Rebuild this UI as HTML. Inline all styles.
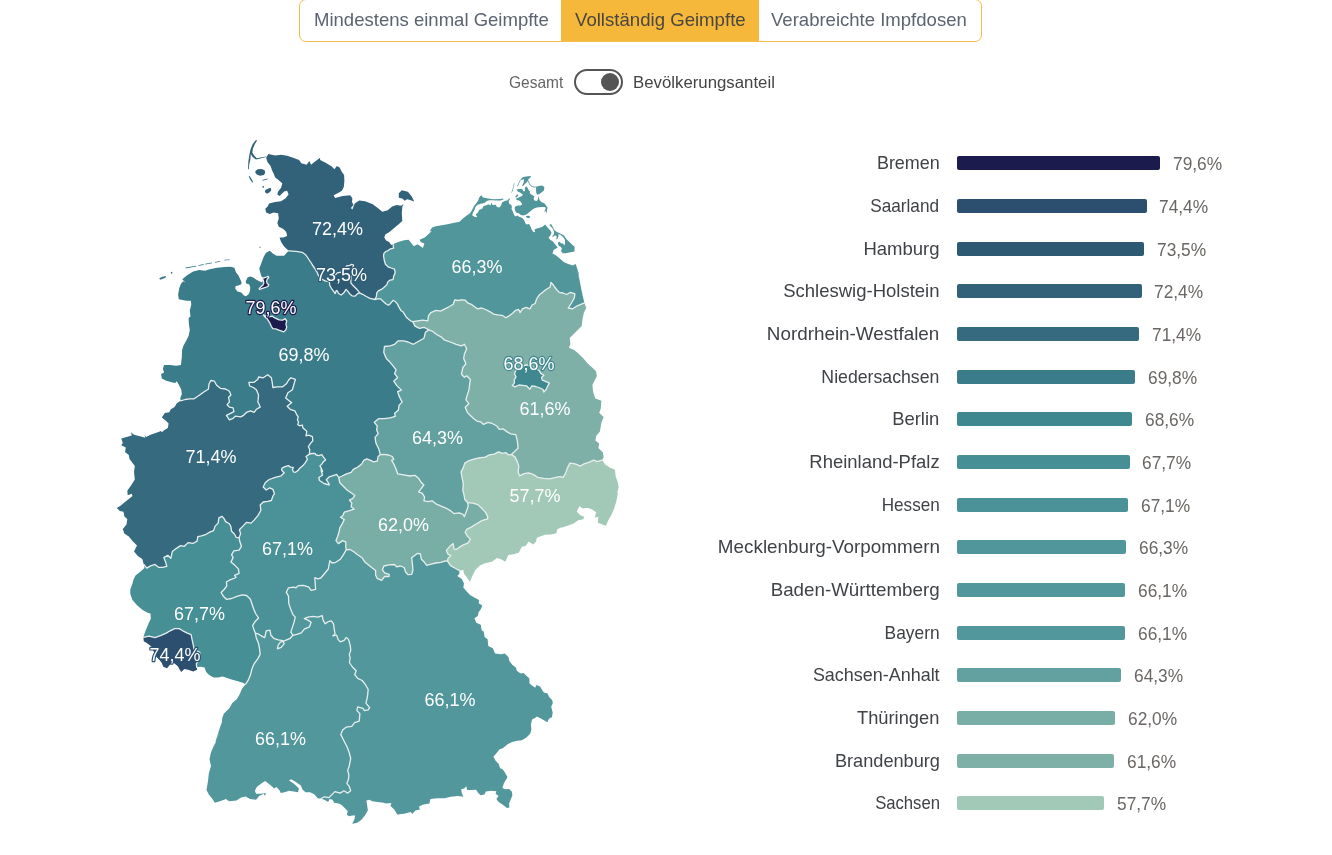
<!DOCTYPE html>
<html lang="de"><head><meta charset="utf-8"><title>Impfdashboard</title>
<style>
*{box-sizing:border-box;margin:0;padding:0}
html,body{width:1332px;height:855px;background:#fff;overflow:hidden}
body{font-family:"Liberation Sans",sans-serif;position:relative;color:#444}
.tabs{position:absolute;left:299px;top:-1px;width:683px;height:43px;border:1px solid #f4bc4c;border-radius:7px;background:#fff;overflow:hidden}
.tab{position:absolute;top:0;height:41px;line-height:40px;font-size:19px;color:#5b6470;white-space:nowrap}
.tab.active{background:#f5b83b;color:#4a4640}
.tab span{position:absolute;top:0;white-space:nowrap;transform-origin:0 50%}
.tog-l{position:absolute;transform-origin:0 50%;font-size:16.5px;white-space:nowrap;line-height:20px}
.switch{position:absolute;left:574px;top:69px;width:49px;height:26px;border:2px solid #555;border-radius:13px;background:#fff}
.knob{position:absolute;left:600.5px;top:73px;width:18px;height:18px;border-radius:50%;background:#555}
.row{position:absolute;left:700px;width:632px;height:22px}
.row .name{position:absolute;transform-origin:100% 50%;right:392.5px;top:0;font-size:18.5px;line-height:22px;white-space:nowrap;color:#3f4247}
.row .bar{position:absolute;left:257px;top:4px;height:14px;border-radius:2px}
.row .val{position:absolute;transform-origin:0 50%;top:1px;font-size:18.5px;line-height:22px;white-space:nowrap;color:#6a6663}
#map{position:absolute;left:0;top:0}
#map text{font-family:"Liberation Sans",sans-serif;font-size:18.5px;fill:#fff}
</style></head><body>
<div class="tabs">
<div class="tab" style="left:0;width:261px"><span id="t1" style="left:14px;transform:scaleX(0.9753)">Mindestens einmal Geimpfte</span></div>
<div class="tab active" style="left:261px;width:198px"><span id="t2" style="left:14px;transform:scaleX(0.9793)">Vollständig Geimpfte</span></div>
<div class="tab" style="left:459px;width:222px"><span id="t3" style="left:12px;transform:scaleX(0.9755)">Verabreichte Impfdosen</span></div>
</div>
<div class="tog-l" id="g1" style="left:508.5px;top:72px;color:#666;transform:scaleX(0.9402)">Gesamt</div>
<div class="switch"></div><div class="knob"></div>
<div class="tog-l" id="g2" style="left:633px;top:72px;color:#444;transform:scaleX(1.0178)">Bevölkerungsanteil</div>
<svg id="map" width="700" height="855" viewBox="0 0 700 855">
<g>
<path d="M180.6,400.8 180.3,398.0 181.8,394.3 181.3,389.8 179.1,385.3 176.8,381.2 175.3,383.0 171.6,382.3 166.3,380.8 161.8,378.5 161.1,374.0 164.1,372.5 162.9,368.8 164.1,365.0 170.1,365.0 176.1,365.8 180.9,365.0 181.8,357.5 182.1,350.0 183.3,345.9 186.3,340.6 188.6,336.1 189.8,330.1 188.9,324.1 188.6,318.1 190.5,316.6 189.8,310.6 191.3,304.6 190.8,300.8 186.3,300.8 178.8,299.3 178.1,294.8 179.3,288.0 181.1,283.5 183.3,281.3 185.6,282.8 182.3,279.3 187.1,275.3 193.1,271.5 199.1,270.0 205.1,270.8 209.6,269.3 217.1,267.8 224.6,267.0 230.6,266.7 234.4,267.8 235.9,272.3 238.3,275.3 240.1,279.0 241.6,282.4 241.3,284.3 238.3,285.4 235.6,286.1 235.3,288.8 237.5,291.4 241.3,292.5 243.9,295.5 246.1,296.3 248.8,294.0 249.9,291.0 250.3,287.3 249.1,284.3 246.1,283.5 245.8,281.3 247.6,277.5 250.3,276.4 253.3,277.5 256.3,279.8 259.3,281.3 262.3,282.4 263.0,279.8 261.9,277.5 260.8,274.5 260.0,271.5 259.3,268.5 261.6,262.5 263.8,256.5 266.1,252.8 269.8,250.8 272.8,253.5 276.6,255.8 284.1,255.8 288.6,250.8 296.1,251.3 302.1,252.3 305.9,255.0 308.9,259.5 311.9,264.0 312.3,265.0 314.5,268.0 316.8,271.8 318.6,275.9 321.3,278.9 325.0,280.8 328.8,281.5 329.4,282.1 329.7,285.3 331.4,288.3 333.3,290.9 335.2,293.5 336.3,290.5 337.4,290.9 338.5,293.5 341.2,295.0 343.8,292.8 346.0,289.4 347.5,290.9 349.8,293.9 352.0,295.8 355.0,296.2 357.3,293.9 359.5,292.9 362.6,294.3 366.3,296.5 370.1,298.4 374.9,299.5 377.6,298.8 380.6,298.8 382.8,301.1 385.8,303.7 388.5,305.2 390.3,303.7 393.0,300.3 395.6,301.8 397.5,304.1 399.0,307.1 401.2,310.8 403.0,311.8 406.8,317.8 410.5,320.8 412.8,321.6 415.0,326.1 419.5,328.3 424.0,327.3 428.9,329.9 425.4,332.3 423.9,338.3 418.6,341.3 413.4,344.3 408.1,342.0 403.6,340.8 398.3,340.8 394.6,344.3 390.1,345.8 384.4,346.5 383.8,352.5 386.3,358.5 390.1,362.3 393.8,366.8 396.1,369.8 394.6,373.5 397.6,377.7 393.8,381.1 396.8,385.6 401.4,390.1 397.6,391.6 399.1,396.1 402.1,402.1 399.1,405.1 398.3,410.3 394.6,413.3 395.3,416.3 390.1,417.8 384.1,418.6 378.8,418.6 374.3,422.3 377.3,426.1 376.6,429.8 378.1,433.6 375.1,437.4 375.8,442.6 376.6,444.5 378.8,449.0 380.3,454.6 378.1,456.5 377.3,461.0 373.6,461.8 370.6,460.3 366.8,458.8 363.8,460.3 361.6,464.0 357.8,467.0 353.3,469.3 351.1,472.3 346.5,473.8 342.0,476.0 338.7,477.5 336.8,474.5 333.8,475.3 329.3,476.8 326.3,479.8 328.5,482.8 329.3,485.0 324.0,483.5 319.5,480.5 318.8,477.5 322.5,475.3 321.0,470.0 322.6,471.6 321.4,468.6 319.9,465.9 321.8,464.1 323.3,461.8 325.6,459.9 323.3,456.9 321.8,454.7 318.8,455.6 316.2,455.0 315.0,453.4 312.0,453.5 309.4,454.1 309.8,449.8 308.3,446.8 310.5,443.4 312.8,440.8 312.4,436.7 308.7,435.2 306.0,435.9 306.8,431.4 305.3,429.9 303.0,428.0 302.3,425.0 299.7,425.8 297.8,424.6 298.5,422.0 297.4,419.8 298.2,416.8 296.3,413.8 294.8,410.8 290.2,409.3 287.2,406.3 291.7,402.6 289.4,401.1 285.7,398.0 287.9,392.8 292.4,389.8 293.9,384.5 295.4,379.3 290.9,377.8 288.7,380.0 286.4,383.8 282.7,386.8 277.4,386.8 272.9,387.5 272.2,382.3 271.4,377.8 267.7,374.8 263.2,377.8 258.6,377.0 257.9,379.3 254.1,382.3 248.9,382.3 249.6,386.0 253.4,387.5 256.4,389.8 258.6,395.0 257.9,401.8 260.2,407.1 256.4,409.3 254.1,412.3 250.4,410.8 246.6,412.3 243.6,415.3 240.6,416.8 235.4,416.1 233.1,418.3 229.4,419.8 226.4,415.3 230.9,413.1 233.9,411.6 233.1,407.8 229.4,407.1 227.1,404.8 229.4,401.8 228.6,397.3 230.9,395.0 229.4,391.3 225.6,389.0 220.4,388.3 216.6,385.3 214.4,381.2 210.9,380.5 209.1,383.8 208.3,389.3 203.8,392.0 198.6,395.8 194.1,398.8 189.6,398.8 185.1,399.5 180.6,400.8Z" fill="#3a7c8a"/>
<path d="M268.3,154.0 275.1,155.5 281.1,154.8 287.1,155.8 293.1,157.8 299.1,160.0 301.4,163.3 306.6,164.8 309.3,161.1 311.1,164.8 314.1,162.3 320.1,157.8 320.1,160.0 326.1,163.0 332.1,166.8 334.4,169.3 336.9,166.0 339.6,167.5 341.9,172.0 344.1,175.0 344.4,181.1 343.8,187.1 341.9,190.8 338.1,193.1 333.6,195.3 335.1,197.9 342.6,196.1 350.2,195.3 352.4,198.3 352.0,202.1 353.5,205.1 350.9,208.1 352.4,209.6 354.7,203.6 359.2,200.6 365.2,201.3 372.7,204.3 378.7,208.8 382.4,211.8 387.7,210.3 392.2,206.6 396.7,205.1 401.1,205.7 403.6,203.9 402.3,206.8 401.8,213.5 402.3,221.1 398.1,224.8 393.6,228.6 389.1,232.3 385.3,234.6 384.3,237.6 386.1,240.6 389.1,242.1 391.3,245.1 393.1,244.3 393.6,248.1 390.6,248.8 387.6,250.8 385.8,251.5 383.9,253.4 383.6,256.0 384.3,260.5 385.5,264.3 388.1,266.9 391.1,268.0 394.5,269.1 395.2,272.5 393.7,276.3 393.0,279.7 390.3,280.0 388.1,281.5 386.6,284.9 383.9,287.5 381.3,289.4 378.3,290.9 376.8,292.8 376.4,296.5 374.9,299.5 370.1,298.4 366.3,296.5 362.6,294.3 359.5,292.9 357.3,293.9 355.0,296.2 352.0,295.8 349.8,293.9 347.5,290.9 346.0,289.4 343.8,292.8 341.2,295.0 338.5,293.5 337.4,290.9 336.3,290.5 335.2,293.5 333.3,290.9 331.4,288.3 329.7,285.3 329.4,282.1 328.8,281.5 325.0,280.8 321.3,278.9 318.6,275.9 316.8,271.8 314.5,268.0 312.3,265.0 311.9,264.0 308.9,259.5 305.9,255.0 302.1,252.3 296.1,251.3 288.6,250.8 284.1,246.4 281.1,241.9 279.6,237.4 283.3,237.4 287.1,235.9 286.3,232.1 283.3,229.1 278.8,226.8 277.3,223.1 278.8,218.6 278.1,213.3 273.6,212.6 269.8,214.1 266.1,212.6 265.3,208.8 267.6,206.6 269.1,203.6 275.1,202.1 281.1,201.3 285.6,198.3 288.6,194.6 287.1,190.8 284.1,191.6 279.6,196.1 277.3,194.6 278.1,191.6 281.1,187.8 282.3,183.3 279.6,181.1 275.1,177.3 273.6,173.5 272.1,170.5 270.6,166.0 267.6,162.3 266.1,157.8 268.3,154.0Z" fill="#32627a"/>
<path d="M393.1,244.3 398.1,242.1 404.1,240.3 408.6,239.8 411.6,243.6 413.8,246.3 417.6,244.3 422.9,248.1 424.4,243.6 420.6,242.1 419.8,239.8 425.1,237.3 428.9,233.8 431.9,230.8 429.6,231.6 431.9,227.8 435.6,226.3 440.1,225.6 446.1,224.4 452.1,223.3 459.6,221.8 462.6,218.8 466.4,215.8 470.0,213.2 471.8,210.5 474.1,206.0 476.3,203.3 478.1,200.6 479.5,197.0 481.3,195.2 483.1,197.5 488.0,198.6 493.4,199.3 499.7,199.0 503.3,198.6 503.5,199.5 500.6,200.6 496.1,200.6 492.5,200.2 489.4,200.2 486.7,201.1 484.4,202.9 480.8,203.8 477.7,204.7 475.4,206.9 474.5,210.1 472.7,213.2 472.3,215.5 474.5,216.8 477.2,217.3 475.9,214.6 478.1,212.3 479.0,210.1 482.2,208.7 483.5,206.0 485.8,205.6 488.5,204.2 490.3,205.6 491.6,202.4 492.5,205.1 495.7,204.7 497.0,206.9 499.3,207.4 501.1,205.6 502.0,202.4 504.7,201.1 507.8,200.2 508.7,198.8 510.1,198.4 508.7,201.5 509.2,203.8 511.4,205.1 511.9,207.4 511.4,208.7 512.8,211.4 514.1,215.0 515.5,216.4 517.3,215.5 519.1,216.8 521.8,217.7 524.1,220.0 525.4,223.2 526.3,224.5 529.0,224.1 530.4,226.3 531.7,229.5 533.1,231.7 535.3,232.2 534.4,229.5 536.7,228.6 539.8,227.7 542.5,226.8 545.2,224.5 546.6,226.3 548.4,228.6 550.6,230.8 551.5,233.1 550.2,235.8 548.4,237.6 550.2,239.8 552.9,241.6 555.1,244.3 557.7,247.6 553.9,249.8 552.4,253.6 555.4,255.1 559.2,258.1 563.7,261.9 568.2,264.1 572.7,265.6 575.7,264.1 577.2,268.6 578.7,273.1 579.4,277.9 576.4,267.5 577.9,273.5 579.4,279.5 580.9,287.0 582.4,294.5 584.4,302.8 580.9,304.3 577.2,305.8 572.7,308.8 568.2,308.0 571.2,303.5 574.2,298.3 574.9,293.8 570.4,292.3 566.7,294.5 562.9,293.0 559.2,292.3 556.9,290.0 554.7,287.0 553.2,284.8 550.9,282.5 550.2,287.0 546.4,289.3 542.6,292.3 538.9,295.3 536.6,299.0 535.1,303.5 532.1,305.0 529.9,308.8 526.1,307.3 522.4,308.8 520.1,312.6 518.6,309.5 515.6,310.3 512.6,313.3 509.6,315.6 505.9,317.8 502.1,315.3 497.6,314.8 493.8,314.1 490.1,311.8 485.6,309.5 481.8,308.0 477.3,308.8 474.3,306.5 471.3,304.3 467.6,302.8 465.3,300.2 461.6,299.8 457.8,300.5 454.8,299.8 453.3,304.3 449.5,306.5 445.0,308.8 440.5,311.1 436.0,310.3 430.8,312.6 428.5,315.6 427.8,320.8 422.5,320.1 418.0,320.8 412.8,321.6 410.5,320.8 406.8,317.8 403.0,311.8 401.2,310.8 399.0,307.1 397.5,304.1 395.6,301.8 393.0,300.3 390.3,303.7 388.5,305.2 385.8,303.7 382.8,301.1 380.6,298.8 377.6,298.8 374.9,299.5 376.4,296.5 376.8,292.8 378.3,290.9 381.3,289.4 383.9,287.5 386.6,284.9 388.1,281.5 390.3,280.0 393.0,279.7 393.7,276.3 395.2,272.5 394.5,269.1 391.1,268.0 388.1,266.9 385.5,264.3 384.3,260.5 383.6,256.0 383.9,253.4 385.8,251.5 387.6,250.8 390.6,248.8 393.6,248.1 393.1,244.3Z" fill="#50969b"/>
<path d="M412.8,321.6 418.0,320.8 422.5,320.1 427.8,320.8 428.5,315.6 430.8,312.6 436.0,310.3 440.5,311.1 445.0,308.8 449.5,306.5 453.3,304.3 454.8,299.8 457.8,300.5 461.6,299.8 465.3,300.2 467.6,302.8 471.3,304.3 474.3,306.5 477.3,308.8 481.8,308.0 485.6,309.5 490.1,311.8 493.8,314.1 497.6,314.8 502.1,315.3 505.9,317.8 509.6,315.6 512.6,313.3 515.6,310.3 518.6,309.5 520.1,312.6 522.4,308.8 526.1,307.3 529.9,308.8 532.1,305.0 535.1,303.5 536.6,299.0 538.9,295.3 542.6,292.3 546.4,289.3 550.2,287.0 550.9,282.5 553.2,284.8 554.7,287.0 556.9,290.0 559.2,292.3 562.9,293.0 566.7,294.5 570.4,292.3 574.9,293.8 574.2,298.3 571.2,303.5 568.2,308.0 572.7,308.8 577.2,305.8 580.9,304.3 584.4,302.8 586.2,308.0 583.9,312.6 582.4,320.1 581.7,326.1 577.2,330.6 572.7,335.1 569.7,338.1 570.4,344.1 568.9,347.8 574.2,350.1 578.7,353.8 583.2,358.3 587.7,363.6 592.2,367.4 595.9,371.1 596.9,376.0 592.4,385.0 593.2,392.5 595.4,398.5 601.4,400.8 600.7,409.0 599.2,412.8 603.7,417.3 601.4,422.6 599.9,431.6 596.2,436.1 595.4,440.6 599.2,443.6 598.4,448.1 602.9,452.6 603.7,457.1 602.2,460.1 596.9,461.6 593.9,460.1 588.6,462.3 584.1,463.8 580.4,466.1 575.1,463.8 569.9,463.1 567.6,467.6 565.4,473.6 563.1,477.4 560.1,476.6 555.6,477.4 549.6,478.9 543.6,478.4 537.6,477.4 533.1,474.4 528.6,472.9 524.1,473.6 519.6,475.9 518.1,472.1 518.8,466.1 517.3,461.6 515.1,457.1 511.3,454.4 514.3,451.8 518.1,448.1 517.3,440.6 515.8,434.6 510.6,433.8 506.8,431.6 503.1,428.9 499.3,429.3 497.1,426.3 491.8,423.3 488.0,422.3 483.5,424.4 480.5,421.8 476.8,421.1 473.8,418.8 471.2,416.3 467.4,412.6 465.2,407.3 468.9,403.6 465.9,399.8 467.4,394.6 468.9,390.1 469.7,384.1 470.4,379.5 466.7,375.8 464.4,377.3 461.4,374.3 462.9,367.5 465.9,363.8 463.7,358.5 464.4,354.0 466.7,348.8 464.4,344.3 461.4,345.8 456.2,344.3 450.2,342.0 444.1,339.8 441.1,336.8 436.6,334.5 432.9,331.5 428.9,329.9 424.0,327.3 419.5,328.3 415.0,326.1 412.8,321.6Z" fill="#7eb0a8"/>
<path d="M428.9,329.9 432.9,331.5 436.6,334.5 441.1,336.8 444.1,339.8 450.2,342.0 456.2,344.3 461.4,345.8 464.4,344.3 466.7,348.8 464.4,354.0 463.7,358.5 465.9,363.8 462.9,367.5 461.4,374.3 464.4,377.3 466.7,375.8 470.4,379.5 469.7,384.1 468.9,390.1 467.4,394.6 465.9,399.8 468.9,403.6 465.2,407.3 467.4,412.6 471.2,416.3 473.8,418.8 476.8,421.1 480.5,421.8 483.5,424.4 488.0,422.3 491.8,423.3 497.1,426.3 499.3,429.3 503.1,428.9 506.8,431.6 510.6,433.8 515.8,434.6 517.3,440.6 518.1,448.1 514.3,451.8 511.3,454.4 508.3,454.8 506.1,452.6 502.3,453.3 498.6,451.8 494.1,454.1 489.5,454.8 485.0,457.1 479.0,457.8 473.0,459.3 468.5,460.8 464.8,463.1 463.3,467.6 461.0,472.1 462.2,478.1 463.3,484.1 462.8,490.1 464.0,495.0 464.8,499.5 467.7,502.7 468.2,506.1 466.7,510.6 464.4,516.6 462.9,514.3 459.2,512.8 453.9,513.6 450.2,510.6 446.4,508.3 441.1,506.1 435.9,503.8 432.1,500.8 428.4,501.6 423.9,500.8 424.6,497.1 422.4,493.3 418.6,491.8 420.9,488.8 423.9,485.0 421.6,482.8 418.6,478.3 414.9,475.3 409.6,476.0 403.6,474.8 397.6,473.8 396.1,469.3 393.8,464.0 391.6,460.3 393.8,459.5 392.3,456.5 388.6,455.0 384.1,454.3 380.3,454.6 378.8,449.0 376.6,444.5 375.8,442.6 375.1,437.4 378.1,433.6 376.6,429.8 377.3,426.1 374.3,422.3 378.8,418.6 384.1,418.6 390.1,417.8 395.3,416.3 394.6,413.3 398.3,410.3 399.1,405.1 402.1,402.1 399.1,396.1 397.6,391.6 401.4,390.1 396.8,385.6 393.8,381.1 397.6,377.7 394.6,373.5 396.1,369.8 393.8,366.8 390.1,362.3 386.3,358.5 383.8,352.5 384.4,346.5 390.1,345.8 394.6,344.3 398.3,340.8 403.6,340.8 408.1,342.0 413.4,344.3 418.6,341.3 423.9,338.3 425.4,332.3 428.9,329.9Z" fill="#63a1a0"/>
<path d="M511.3,454.4 515.1,457.1 517.3,461.6 518.8,466.1 518.1,472.1 519.6,475.9 524.1,473.6 528.6,472.9 533.1,474.4 537.6,477.4 543.6,478.4 549.6,478.9 555.6,477.4 560.1,476.6 563.1,477.4 565.4,473.6 567.6,467.6 569.9,463.1 575.1,463.8 580.4,466.1 584.1,463.8 588.6,462.3 593.9,460.1 596.9,461.6 602.2,460.1 605.2,464.6 609.7,467.6 614.9,469.8 615.7,476.6 617.9,482.6 618.7,487.1 617.2,493.1 617.9,493.5 616.4,501.0 614.2,508.5 611.2,515.3 608.2,520.5 605.9,525.8 597.7,522.8 598.4,516.8 594.7,517.5 596.2,512.3 591.7,509.3 587.1,507.8 582.6,508.5 579.6,506.3 576.6,511.5 580.4,515.3 584.1,516.8 583.4,519.3 578.1,520.2 573.6,523.5 567.6,525.8 563.1,527.3 560.1,527.7 557.1,529.5 556.4,533.3 551.1,534.4 545.1,534.8 540.6,536.3 536.8,537.8 536.1,541.6 533.1,544.6 528.6,541.6 525.6,546.1 521.8,546.8 518.8,552.8 513.6,554.3 508.3,555.1 505.3,561.8 501.6,559.6 497.1,558.1 491.8,561.8 485.0,563.3 479.8,565.6 475.3,570.1 472.3,576.1 470.0,582.1 467.0,577.6 464.0,573.8 463.3,570.1 459.2,570.5 454.3,567.8 450.5,565.6 447.7,561.3 447.9,558.6 450.9,555.6 447.9,554.1 446.4,550.4 450.2,545.9 453.2,543.6 453.9,548.9 456.2,549.6 459.2,547.4 462.9,545.1 468.2,542.9 470.4,539.1 467.4,536.1 465.2,532.3 466.7,529.3 471.2,527.1 474.9,524.8 478.7,522.6 482.4,520.3 487.7,518.8 487.7,516.6 485.4,512.1 481.7,508.3 477.9,504.6 472.7,503.1 467.7,502.7 464.8,499.5 464.0,495.0 462.8,490.1 463.3,484.1 462.2,478.1 461.0,472.1 463.3,467.6 464.8,463.1 468.5,460.8 473.0,459.3 479.0,457.8 485.0,457.1 489.5,454.8 494.1,454.1 498.6,451.8 502.3,453.3 506.1,452.6 508.3,454.8 511.3,454.4Z" fill="#a2c9b7"/>
<path d="M380.3,454.6 384.1,454.3 388.6,455.0 392.3,456.5 393.8,459.5 391.6,460.3 393.8,464.0 396.1,469.3 397.6,473.8 403.6,474.8 409.6,476.0 414.9,475.3 418.6,478.3 421.6,482.8 423.9,485.0 420.9,488.8 418.6,491.8 422.4,493.3 424.6,497.1 423.9,500.8 428.4,501.6 432.1,500.8 435.9,503.8 441.1,506.1 446.4,508.3 450.2,510.6 453.9,513.6 459.2,512.8 462.9,514.3 464.4,516.6 466.7,510.6 468.2,506.1 467.7,502.7 472.7,503.1 477.9,504.6 481.7,508.3 485.4,512.1 487.7,516.6 487.7,518.8 482.4,520.3 478.7,522.6 474.9,524.8 471.2,527.1 466.7,529.3 465.2,532.3 467.4,536.1 470.4,539.1 468.2,542.9 462.9,545.1 459.2,547.4 456.2,549.6 453.9,548.9 453.2,543.6 450.2,545.9 446.4,550.4 447.9,554.1 450.9,555.6 447.9,558.6 447.7,561.3 445.4,560.8 440.9,562.3 435.7,563.0 431.2,564.2 426.7,565.3 424.4,562.3 421.4,559.3 420.4,554.0 417.7,553.3 414.7,555.5 411.7,557.8 412.4,563.8 412.9,570.5 411.7,574.3 407.9,574.7 405.6,572.0 404.1,567.5 400.4,566.0 396.6,566.8 394.4,564.5 389.1,564.8 383.9,566.0 382.4,569.8 384.6,572.8 389.1,574.3 389.1,576.5 384.6,576.5 381.6,580.3 377.1,578.3 375.6,575.0 375.6,570.5 372.6,568.3 368.9,565.3 365.1,562.3 362.1,557.8 357.6,554.8 353.8,551.8 350.1,549.5 346.2,549.8 345.8,547.4 345.8,542.1 342.8,540.6 338.3,543.6 336.0,540.6 337.5,536.8 339.0,532.3 339.8,527.8 342.0,524.1 344.3,519.6 340.5,517.3 342.8,515.8 344.3,512.1 349.5,510.6 354.1,509.1 351.1,506.8 351.8,503.1 349.5,500.1 352.6,498.6 354.8,495.6 351.8,493.3 347.3,490.3 343.5,486.5 339.8,482.8 338.7,477.5 342.0,476.0 346.5,473.8 351.1,472.3 353.3,469.3 357.8,467.0 361.6,464.0 363.8,460.3 366.8,458.8 370.6,460.3 373.6,461.8 377.3,461.0 378.1,456.5 380.3,454.6Z" fill="#79aea6"/>
<path d="M346.2,549.8 350.1,549.5 353.8,551.8 357.6,554.8 362.1,557.8 365.1,562.3 368.9,565.3 372.6,568.3 375.6,570.5 375.6,575.0 377.1,578.3 381.6,580.3 384.6,576.5 389.1,576.5 389.1,574.3 384.6,572.8 382.4,569.8 383.9,566.0 389.1,564.8 394.4,564.5 396.6,566.8 400.4,566.0 404.1,567.5 405.6,572.0 407.9,574.7 411.7,574.3 412.9,570.5 412.4,563.8 411.7,557.8 414.7,555.5 417.7,553.3 420.4,554.0 421.4,559.3 424.4,562.3 426.7,565.3 431.2,564.2 435.7,563.0 440.9,562.3 445.4,560.8 447.7,561.3 450.5,565.6 454.3,567.8 459.2,570.5 459.5,573.8 457.3,576.1 461.8,579.1 464.0,583.6 463.3,587.4 466.3,591.1 470.0,594.9 475.3,597.9 479.0,600.1 479.3,599.5 478.6,603.3 482.3,605.5 480.8,609.3 478.6,612.3 477.8,616.0 474.4,618.3 476.3,622.8 480.8,624.7 481.6,630.3 483.8,631.8 484.6,637.1 487.6,639.3 488.3,646.1 492.8,648.3 495.1,653.6 501.1,654.3 504.8,653.6 508.6,657.3 509.3,661.1 512.3,664.8 516.1,667.8 516.8,670.8 520.6,673.4 523.6,673.1 526.6,676.1 529.3,678.3 529.6,683.6 532.6,685.9 535.3,687.8 536.4,685.1 540.1,686.6 542.4,690.4 543.9,692.6 547.6,693.4 549.1,697.1 552.1,700.1 552.9,703.1 551.4,707.9 553.0,702.3 551.2,706.8 552.7,712.8 551.9,717.3 548.9,718.8 547.4,722.2 541.4,718.8 536.9,716.5 535.4,717.7 532.0,719.5 530.9,724.8 531.4,729.3 530.2,733.8 526.4,737.5 521.9,740.2 517.4,740.8 512.1,742.0 507.6,744.3 503.1,748.0 499.4,749.5 496.4,753.3 493.4,756.8 495.6,760.8 498.6,763.8 500.1,768.3 502.4,769.1 504.6,772.1 507.6,777.3 506.1,779.6 503.9,783.3 502.4,787.8 504.6,789.3 509.1,788.9 511.8,791.6 512.4,795.3 510.6,799.8 509.1,803.6 509.4,807.4 506.9,808.1 503.1,805.1 498.6,802.1 496.4,799.1 498.6,796.1 495.6,793.8 496.4,791.3 491.1,790.8 485.9,791.6 484.4,794.6 480.6,795.3 478.3,793.1 476.1,789.8 471.6,790.1 467.1,790.1 466.3,786.3 464.1,788.6 461.1,789.3 461.8,793.1 463.3,796.8 458.1,796.1 450.6,796.8 444.6,798.3 437.1,798.3 430.3,799.1 429.5,803.6 423.5,804.4 419.0,806.6 419.8,809.6 415.3,810.4 412.3,814.1 410.8,811.9 404.0,813.8 397.3,814.4 394.3,809.6 390.5,805.9 391.3,802.9 386.0,803.6 383.7,802.8 377.7,802.1 372.4,801.3 369.4,799.8 366.4,800.6 367.2,805.8 367.9,810.3 364.9,815.6 361.2,820.1 356.7,823.1 352.2,823.8 354.4,819.3 355.2,815.6 352.2,815.6 349.2,816.3 346.9,814.8 347.7,811.1 344.7,808.1 341.7,805.1 338.6,803.6 334.1,802.8 332.6,799.8 329.6,799.1 328.1,802.1 324.4,799.8 320.9,798.8 324.4,796.8 328.9,797.6 331.9,794.6 334.9,791.6 340.2,793.1 343.9,790.8 347.7,793.1 350.7,790.8 349.2,786.3 346.9,783.3 348.4,779.6 348.9,775.0 347.7,770.5 349.2,766.0 350.7,758.5 349.2,752.5 346.9,746.5 343.4,739.8 340.8,734.6 342.6,730.1 346.4,727.1 351.7,726.3 354.7,722.6 359.2,721.1 359.9,713.6 356.9,710.6 357.7,706.8 362.9,708.3 364.4,710.6 368.2,709.8 369.7,707.6 365.9,703.1 367.4,697.1 368.2,689.5 365.2,684.3 362.2,680.5 357.7,678.3 354.7,674.5 356.2,670.8 352.4,667.0 349.4,662.5 350.2,657.9 349.3,654.6 350.8,650.1 350.1,644.9 348.6,639.6 346.3,637.4 344.1,640.4 340.3,641.9 338.1,639.6 336.6,635.1 332.8,635.9 335.1,633.6 334.3,629.8 333.6,623.8 331.3,620.8 328.3,621.6 325.3,623.8 323.1,620.1 322.3,615.6 317.8,617.1 313.3,616.3 308.0,617.1 304.3,618.6 308.0,620.1 311.1,622.3 309.5,626.8 304.3,629.1 301.3,632.9 296.8,634.4 293.0,635.3 290.8,632.1 292.3,627.6 293.8,623.1 295.3,617.1 293.0,614.8 290.8,609.6 288.8,603.6 288.5,596.1 286.3,592.3 288.5,587.8 293.8,587.1 296.0,587.8 298.3,585.6 303.5,585.3 308.8,587.1 311.1,590.4 315.6,589.3 314.8,577.7 317.8,578.8 320.8,578.0 324.6,573.5 328.3,569.0 329.8,560.8 332.1,563.0 335.8,562.3 340.3,559.3 343.3,554.8 346.2,549.8Z" fill="#52979c"/>
<path d="M255.3,633.1 257.9,633.8 261.7,636.1 264.7,637.6 266.2,630.8 269.9,630.1 271.0,635.3 273.7,638.3 278.2,639.8 282.7,640.6 284.2,643.6 281.2,647.3 277.4,648.8 278.2,645.1 280.4,642.1 284.9,640.6 290.2,638.3 293.0,635.3 296.8,634.4 301.3,632.9 304.3,629.1 309.5,626.8 311.1,622.3 308.0,620.1 304.3,618.6 308.0,617.1 313.3,616.3 317.8,617.1 322.3,615.6 323.1,620.1 325.3,623.8 328.3,621.6 331.3,620.8 333.6,623.8 334.3,629.8 335.1,633.6 332.8,635.9 336.6,635.1 338.1,639.6 340.3,641.9 344.1,640.4 346.3,637.4 348.6,639.6 350.1,644.9 350.8,650.1 349.3,654.6 350.2,657.9 349.4,662.5 352.4,667.0 356.2,670.8 354.7,674.5 357.7,678.3 362.2,680.5 365.2,684.3 368.2,689.5 367.4,697.1 365.9,703.1 369.7,707.6 368.2,709.8 364.4,710.6 362.9,708.3 357.7,706.8 356.9,710.6 359.9,713.6 359.2,721.1 354.7,722.6 351.7,726.3 346.4,727.1 342.6,730.1 340.8,734.6 343.4,739.8 346.9,746.5 349.2,752.5 350.7,758.5 349.2,766.0 347.7,770.5 348.9,775.0 348.4,779.6 346.9,783.3 349.2,786.3 350.7,790.8 347.7,793.1 343.9,790.8 340.2,793.1 334.9,791.6 331.9,794.6 328.9,797.6 324.4,796.8 320.9,798.8 317.6,798.3 314.6,794.6 310.1,792.3 305.6,792.3 302.6,789.8 300.8,785.6 295.9,782.0 290.9,779.3 289.1,780.5 292.1,782.6 295.1,784.8 298.9,788.6 298.1,792.3 293.6,791.6 289.1,790.8 284.6,792.3 280.8,793.1 279.3,790.1 276.3,787.1 274.1,788.6 271.8,786.3 268.1,783.3 265.1,781.1 260.6,784.1 256.8,787.1 254.9,790.8 256.1,793.8 260.6,793.8 265.8,793.1 265.1,796.1 263.6,793.8 259.1,796.1 256.1,799.8 250.1,799.1 245.6,796.4 241.1,797.6 236.5,800.6 229.0,801.3 226.0,799.1 220.0,801.3 214.8,802.8 212.5,799.1 208.8,794.6 206.5,790.1 208.0,781.1 208.8,773.5 211.0,766.0 209.5,759.3 211.0,752.5 214.0,745.0 217.0,739.0 218.5,733.0 220.0,727.0 209.8,760.1 210.5,754.1 213.5,748.1 215.8,742.1 218.0,736.1 219.5,728.6 221.8,722.6 222.2,718.1 224.0,713.6 229.3,708.3 232.3,703.1 236.8,699.3 239.8,694.1 242.0,688.8 245.6,684.2 248.1,680.4 250.4,675.1 251.9,669.1 254.1,663.8 257.9,658.6 260.2,654.1 259.4,648.1 258.6,643.6 256.4,638.3 255.3,633.1Z" fill="#52979c"/>
<path d="M309.4,454.1 312.0,453.5 315.0,453.4 316.2,455.0 318.8,455.6 321.8,454.7 323.3,456.9 325.6,459.9 323.3,461.8 321.8,464.1 319.9,465.9 321.4,468.6 322.6,471.6 321.0,470.0 322.5,475.3 318.8,477.5 319.5,480.5 324.0,483.5 329.3,485.0 328.5,482.8 326.3,479.8 329.3,476.8 333.8,475.3 336.8,474.5 338.7,477.5 339.8,482.8 343.5,486.5 347.3,490.3 351.8,493.3 354.8,495.6 352.6,498.6 349.5,500.1 351.8,503.1 351.1,506.8 354.1,509.1 349.5,510.6 344.3,512.1 342.8,515.8 340.5,517.3 344.3,519.6 342.0,524.1 339.8,527.8 339.0,532.3 337.5,536.8 336.0,540.6 338.3,543.6 342.8,540.6 345.8,542.1 345.8,547.4 346.2,549.8 343.3,554.8 340.3,559.3 335.8,562.3 332.1,563.0 329.8,560.8 328.3,569.0 324.6,573.5 320.8,578.0 317.8,578.8 314.8,577.7 315.6,589.3 311.1,590.4 308.8,587.1 303.5,585.3 298.3,585.6 296.0,587.8 293.8,587.1 288.5,587.8 286.3,592.3 288.5,596.1 288.8,603.6 290.8,609.6 293.0,614.8 295.3,617.1 293.8,623.1 292.3,627.6 290.8,632.1 293.0,635.3 290.2,638.3 284.9,640.6 280.4,642.1 278.2,645.1 277.4,648.8 281.2,647.3 284.2,643.6 282.7,640.6 278.2,639.8 273.7,638.3 271.0,635.3 269.9,630.1 266.2,630.8 264.7,637.6 261.7,636.1 257.9,633.8 255.3,633.1 254.1,630.1 252.6,625.6 254.9,621.8 258.6,618.0 255.6,613.5 253.4,608.3 251.9,603.8 250.4,599.3 246.6,595.5 242.1,594.8 236.9,596.3 231.6,598.5 226.4,599.3 223.4,596.3 221.1,592.5 224.1,589.5 226.8,585.8 226.4,582.0 230.1,579.8 236.1,577.5 234.6,575.3 239.1,573.4 238.4,568.9 234.6,565.1 230.9,562.1 233.1,557.6 231.6,554.6 233.9,550.8 239.1,550.1 241.4,546.3 239.9,541.8 239.1,537.8 240.6,533.6 239.4,529.8 242.9,526.1 246.6,522.3 251.1,523.1 254.1,520.1 257.9,515.6 260.9,510.3 260.2,505.0 263.2,502.0 267.7,501.3 271.4,500.5 272.9,496.0 274.4,493.8 272.9,489.3 269.9,487.8 266.2,490.0 263.2,487.0 265.4,482.5 269.2,479.5 275.2,477.3 281.2,475.8 284.2,472.8 281.6,470.1 282.0,468.2 285.0,466.7 288.4,465.6 290.6,467.1 293.3,467.4 292.5,469.3 293.3,471.9 295.5,472.3 298.2,470.4 299.7,468.2 303.0,465.6 305.3,462.6 307.5,459.2 306.0,456.5 309.4,454.1Z" fill="#4a9298"/>
<path d="M180.6,400.8 185.1,399.5 189.6,398.8 194.1,398.8 198.6,395.8 203.8,392.0 208.3,389.3 209.1,383.8 210.9,380.5 214.4,381.2 216.6,385.3 220.4,388.3 225.6,389.0 229.4,391.3 230.9,395.0 228.6,397.3 229.4,401.8 227.1,404.8 229.4,407.1 233.1,407.8 233.9,411.6 230.9,413.1 226.4,415.3 229.4,419.8 233.1,418.3 235.4,416.1 240.6,416.8 243.6,415.3 246.6,412.3 250.4,410.8 254.1,412.3 256.4,409.3 260.2,407.1 257.9,401.8 258.6,395.0 256.4,389.8 253.4,387.5 249.6,386.0 248.9,382.3 254.1,382.3 257.9,379.3 258.6,377.0 263.2,377.8 267.7,374.8 271.4,377.8 272.2,382.3 272.9,387.5 277.4,386.8 282.7,386.8 286.4,383.8 288.7,380.0 290.9,377.8 295.4,379.3 293.9,384.5 292.4,389.8 287.9,392.8 285.7,398.0 289.4,401.1 291.7,402.6 287.2,406.3 290.2,409.3 294.8,410.8 296.3,413.8 298.2,416.8 297.4,419.8 298.5,422.0 297.8,424.6 299.7,425.8 302.3,425.0 303.0,428.0 305.3,429.9 306.8,431.4 306.0,435.9 308.7,435.2 312.4,436.7 312.8,440.8 310.5,443.4 308.3,446.8 309.8,449.8 309.4,454.1 306.0,456.5 307.5,459.2 305.3,462.6 303.0,465.6 299.7,468.2 298.2,470.4 295.5,472.3 293.3,471.9 292.5,469.3 293.3,467.4 290.6,467.1 288.4,465.6 285.0,466.7 282.0,468.2 281.6,470.1 284.2,472.8 281.2,475.8 275.2,477.3 269.2,479.5 265.4,482.5 263.2,487.0 266.2,490.0 269.9,487.8 272.9,489.3 274.4,493.8 272.9,496.0 271.4,500.5 267.7,501.3 263.2,502.0 260.2,505.0 260.9,510.3 257.9,515.6 254.1,520.1 251.1,523.1 246.6,522.3 242.9,526.1 239.4,529.8 240.6,533.6 239.1,537.8 236.1,537.3 234.6,534.3 231.6,531.3 230.9,526.8 229.4,523.8 225.6,521.6 224.1,518.6 221.9,516.3 218.9,517.8 218.1,523.1 215.1,526.1 213.6,530.6 209.8,532.1 206.1,534.3 201.6,535.8 197.8,536.6 197.1,541.1 193.3,543.3 188.1,542.6 184.3,546.3 180.6,545.6 176.1,548.6 172.3,551.6 170.8,558.3 167.8,555.3 163.8,557.6 165.6,562.1 166.8,566.3 162.6,567.4 158.8,567.4 155.0,564.4 150.5,565.9 146.8,568.1 143.8,564.4 142.3,559.1 137.8,556.1 134.0,551.6 137.0,545.6 132.5,541.1 128.8,536.6 124.3,533.6 122.8,529.1 126.5,524.6 127.3,519.3 124.3,516.3 123.5,511.8 119.8,511.1 116.8,508.0 120.5,505.8 125.0,502.0 132.5,496.0 131.8,493.8 127.7,495.3 127.3,490.8 131.0,485.5 134.8,479.5 134.0,472.0 134.8,466.0 129.5,458.9 128.8,455.1 125.0,452.1 125.8,447.6 121.3,445.3 122.8,443.1 121.3,438.6 126.5,437.1 131.8,435.6 131.0,432.3 134.0,434.8 140.0,436.3 145.3,437.8 144.5,434.8 146.0,437.1 150.5,434.8 155.0,433.3 161.1,431.1 161.8,432.3 164.1,430.3 167.8,428.1 168.6,423.6 165.6,420.6 161.8,417.6 164.8,413.1 169.3,412.3 170.8,409.3 174.6,407.1 176.8,403.3 180.6,400.8Z" fill="#356a7f"/>
<path d="M143.8,564.4 146.8,568.1 150.5,565.9 155.0,564.4 158.8,567.4 162.6,567.4 166.8,566.3 165.6,562.1 163.8,557.6 167.8,555.3 170.8,558.3 172.3,551.6 176.1,548.6 180.6,545.6 184.3,546.3 188.1,542.6 193.3,543.3 197.1,541.1 197.8,536.6 201.6,535.8 206.1,534.3 209.8,532.1 213.6,530.6 215.1,526.1 218.1,523.1 218.9,517.8 221.9,516.3 224.1,518.6 225.6,521.6 229.4,523.8 230.9,526.8 231.6,531.3 234.6,534.3 236.1,537.3 239.1,537.8 239.9,541.8 241.4,546.3 239.1,550.1 233.9,550.8 231.6,554.6 233.1,557.6 230.9,562.1 234.6,565.1 238.4,568.9 239.1,573.4 234.6,575.3 236.1,577.5 230.1,579.8 226.4,582.0 226.8,585.8 224.1,589.5 221.1,592.5 223.4,596.3 226.4,599.3 231.6,598.5 236.9,596.3 242.1,594.8 246.6,595.5 250.4,599.3 251.9,603.8 253.4,608.3 255.6,613.5 258.6,618.0 254.9,621.8 252.6,625.6 254.1,630.1 255.3,633.1 256.4,638.3 258.6,643.6 259.4,648.1 260.2,654.1 257.9,658.6 254.1,663.8 251.9,669.1 250.4,675.1 248.1,680.4 245.6,684.2 242.1,682.6 236.9,681.1 231.6,679.6 227.1,678.1 222.6,676.6 218.1,677.4 213.6,677.4 209.1,675.1 206.1,672.1 204.6,667.6 200.8,666.8 196.8,667.3 196.3,663.8 198.6,660.1 200.1,656.3 199.8,652.3 194.1,649.6 193.3,645.1 192.3,640.6 191.1,634.6 187.3,633.1 182.8,630.8 179.1,628.6 174.6,628.6 170.1,630.8 166.3,633.1 161.1,635.3 155.0,637.6 149.0,636.1 143.3,637.3 145.3,631.6 146.8,627.8 148.7,623.3 150.8,618.8 150.5,613.5 147.5,612.8 142.3,609.8 137.0,605.3 132.5,600.0 130.3,594.0 130.3,589.5 132.5,583.5 133.3,580.1 135.5,575.6 140.0,571.9 144.5,568.1 143.8,564.4Z" fill="#468f95"/>
<path d="M143.3,637.3 149.0,636.1 155.0,637.6 161.1,635.3 166.3,633.1 170.1,630.8 174.6,628.6 179.1,628.6 182.8,630.8 187.3,633.1 191.1,634.6 192.3,640.6 193.3,645.1 194.1,649.6 199.8,652.3 200.1,656.3 198.6,660.1 196.3,663.8 196.8,667.3 197.1,669.8 193.3,671.4 188.1,669.8 184.3,669.1 181.3,672.1 179.8,669.8 177.6,666.1 173.8,663.1 170.1,664.6 167.1,668.3 163.3,666.8 161.8,663.1 159.5,660.1 155.8,656.3 153.5,651.1 151.3,646.6 147.5,643.6 143.8,641.3 143.3,637.3Z" fill="#2c4f70"/>
<path d="M329.4,282.1 331.8,280.0 334.0,277.0 335.9,274.4 337.4,272.9 340.0,272.3 342.3,271.8 344.2,269.9 345.7,267.6 346.6,266.0 349.8,265.4 351.7,264.3 353.5,265.0 352.9,267.6 351.7,269.9 351.9,273.3 351.1,277.0 350.9,280.0 350.9,283.0 352.8,285.3 355.0,287.5 357.3,289.8 358.8,291.7 359.5,292.9 357.3,293.9 355.0,296.2 352.0,295.8 349.8,293.9 347.5,290.9 346.0,289.4 343.8,292.8 341.2,295.0 338.5,293.5 337.4,290.9 336.3,290.5 335.2,293.5 333.3,290.9 331.4,288.3 329.7,285.3 329.4,282.1Z" fill="#2e5973"/>
<path d="M515.7,370.8 514.5,373.8 516.0,376.8 514.2,379.8 514.5,382.8 512.3,385.4 514.9,386.9 519.0,385.0 522.8,385.4 526.5,385.8 529.9,389.2 531.8,385.8 535.6,386.5 540.1,388.0 543.1,389.5 543.8,392.2 546.1,389.5 547.6,386.2 549.4,383.2 546.1,381.7 542.3,380.2 541.6,377.5 543.8,375.3 540.8,373.4 539.3,370.8 537.1,369.3 533.3,367.4 529.5,365.9 526.9,364.9 524.3,365.5 522.0,367.6 518.3,369.4Z" fill="#3f8890"/>
<path d="M263.0,314.7 265.3,315.8 267.5,316.9 270.5,316.5 272.4,316.2 274.3,317.7 276.9,318.8 279.2,319.9 282.6,320.2 285.2,318.6 286.7,321.1 285.9,324.1 286.7,327.1 285.9,329.7 283.7,331.9 281.8,331.2 278.8,330.1 275.8,328.9 272.8,328.6 271.3,326.3 270.2,323.7 268.7,321.1 267.2,318.8 264.9,316.9Z" fill="#1b1b4d"/>
<path d="M261.2,277.2 263.0,278.1 265.2,277.5 268.2,276.3 268.8,277.5 267.3,279.0 266.5,281.4 267.3,283.5 268.8,284.7 267.9,286.5 265.5,287.4 262.4,288.3 259.7,289.5 259.1,288.6 261.2,286.5 263.0,285.0 263.8,283.2 263.5,280.8 262.7,279.0Z" fill="#1b1b4d"/>
</g>
<path fill="none" stroke="#e6eeed" stroke-width="1.3" stroke-linejoin="round" stroke-linecap="round" d="M288.6,250.8 296.1,251.3 302.1,252.3 305.9,255.0 308.9,259.5 311.9,264.0 312.3,265.0 314.5,268.0 316.8,271.8 318.6,275.9 321.3,278.9 325.0,280.8 328.8,281.5 329.4,282.1 M329.4,282.1 329.7,285.3 331.4,288.3 333.3,290.9 335.2,293.5 336.3,290.5 337.4,290.9 338.5,293.5 341.2,295.0 343.8,292.8 346.0,289.4 347.5,290.9 349.8,293.9 352.0,295.8 355.0,296.2 357.3,293.9 359.5,292.9 M329.4,282.1 331.8,280.0 334.0,277.0 335.9,274.4 337.4,272.9 340.0,272.3 342.3,271.8 344.2,269.9 345.7,267.6 346.6,266.0 349.8,265.4 351.7,264.3 353.5,265.0 352.9,267.6 351.7,269.9 351.9,273.3 351.1,277.0 350.9,280.0 350.9,283.0 352.8,285.3 355.0,287.5 357.3,289.8 358.8,291.7 359.5,292.9 M359.5,292.9 362.6,294.3 366.3,296.5 370.1,298.4 374.9,299.5 M393.1,244.3 393.6,248.1 390.6,248.8 387.6,250.8 385.8,251.5 383.9,253.4 383.6,256.0 384.3,260.5 385.5,264.3 388.1,266.9 391.1,268.0 394.5,269.1 395.2,272.5 393.7,276.3 393.0,279.7 390.3,280.0 388.1,281.5 386.6,284.9 383.9,287.5 381.3,289.4 378.3,290.9 376.8,292.8 376.4,296.5 374.9,299.5 M374.9,299.5 377.6,298.8 380.6,298.8 382.8,301.1 385.8,303.7 388.5,305.2 390.3,303.7 393.0,300.3 395.6,301.8 397.5,304.1 399.0,307.1 401.2,310.8 403.0,311.8 406.8,317.8 410.5,320.8 412.8,321.6 M412.8,321.6 418.0,320.8 422.5,320.1 427.8,320.8 428.5,315.6 430.8,312.6 436.0,310.3 440.5,311.1 445.0,308.8 449.5,306.5 453.3,304.3 454.8,299.8 457.8,300.5 461.6,299.8 465.3,300.2 467.6,302.8 471.3,304.3 474.3,306.5 477.3,308.8 481.8,308.0 485.6,309.5 490.1,311.8 493.8,314.1 497.6,314.8 502.1,315.3 505.9,317.8 509.6,315.6 512.6,313.3 515.6,310.3 518.6,309.5 520.1,312.6 522.4,308.8 526.1,307.3 529.9,308.8 532.1,305.0 535.1,303.5 536.6,299.0 538.9,295.3 542.6,292.3 546.4,289.3 550.2,287.0 550.9,282.5 553.2,284.8 554.7,287.0 556.9,290.0 559.2,292.3 562.9,293.0 566.7,294.5 570.4,292.3 574.9,293.8 574.2,298.3 571.2,303.5 568.2,308.0 572.7,308.8 577.2,305.8 580.9,304.3 584.4,302.8 M412.8,321.6 415.0,326.1 419.5,328.3 424.0,327.3 428.9,329.9 M428.9,329.9 425.4,332.3 423.9,338.3 418.6,341.3 413.4,344.3 408.1,342.0 403.6,340.8 398.3,340.8 394.6,344.3 390.1,345.8 384.4,346.5 383.8,352.5 386.3,358.5 390.1,362.3 393.8,366.8 396.1,369.8 394.6,373.5 397.6,377.7 393.8,381.1 396.8,385.6 401.4,390.1 397.6,391.6 399.1,396.1 402.1,402.1 399.1,405.1 398.3,410.3 394.6,413.3 395.3,416.3 390.1,417.8 384.1,418.6 378.8,418.6 374.3,422.3 377.3,426.1 376.6,429.8 378.1,433.6 375.1,437.4 375.8,442.6 376.6,444.5 378.8,449.0 380.3,454.6 M428.9,329.9 432.9,331.5 436.6,334.5 441.1,336.8 444.1,339.8 450.2,342.0 456.2,344.3 461.4,345.8 464.4,344.3 466.7,348.8 464.4,354.0 463.7,358.5 465.9,363.8 462.9,367.5 461.4,374.3 464.4,377.3 466.7,375.8 470.4,379.5 469.7,384.1 468.9,390.1 467.4,394.6 465.9,399.8 468.9,403.6 465.2,407.3 467.4,412.6 471.2,416.3 473.8,418.8 476.8,421.1 480.5,421.8 483.5,424.4 488.0,422.3 491.8,423.3 497.1,426.3 499.3,429.3 503.1,428.9 506.8,431.6 510.6,433.8 515.8,434.6 517.3,440.6 518.1,448.1 514.3,451.8 511.3,454.4 M511.3,454.4 515.1,457.1 517.3,461.6 518.8,466.1 518.1,472.1 519.6,475.9 524.1,473.6 528.6,472.9 533.1,474.4 537.6,477.4 543.6,478.4 549.6,478.9 555.6,477.4 560.1,476.6 563.1,477.4 565.4,473.6 567.6,467.6 569.9,463.1 575.1,463.8 580.4,466.1 584.1,463.8 588.6,462.3 593.9,460.1 596.9,461.6 602.2,460.1 M511.3,454.4 508.3,454.8 506.1,452.6 502.3,453.3 498.6,451.8 494.1,454.1 489.5,454.8 485.0,457.1 479.0,457.8 473.0,459.3 468.5,460.8 464.8,463.1 463.3,467.6 461.0,472.1 462.2,478.1 463.3,484.1 462.8,490.1 464.0,495.0 464.8,499.5 467.7,502.7 M380.3,454.6 384.1,454.3 388.6,455.0 392.3,456.5 393.8,459.5 391.6,460.3 393.8,464.0 396.1,469.3 397.6,473.8 403.6,474.8 409.6,476.0 414.9,475.3 418.6,478.3 421.6,482.8 423.9,485.0 420.9,488.8 418.6,491.8 422.4,493.3 424.6,497.1 423.9,500.8 428.4,501.6 432.1,500.8 435.9,503.8 441.1,506.1 446.4,508.3 450.2,510.6 453.9,513.6 459.2,512.8 462.9,514.3 464.4,516.6 466.7,510.6 468.2,506.1 467.7,502.7 M380.3,454.6 378.1,456.5 377.3,461.0 373.6,461.8 370.6,460.3 366.8,458.8 363.8,460.3 361.6,464.0 357.8,467.0 353.3,469.3 351.1,472.3 346.5,473.8 342.0,476.0 338.7,477.5 M467.7,502.7 472.7,503.1 477.9,504.6 481.7,508.3 485.4,512.1 487.7,516.6 487.7,518.8 482.4,520.3 478.7,522.6 474.9,524.8 471.2,527.1 466.7,529.3 465.2,532.3 467.4,536.1 470.4,539.1 468.2,542.9 462.9,545.1 459.2,547.4 456.2,549.6 453.9,548.9 453.2,543.6 450.2,545.9 446.4,550.4 447.9,554.1 450.9,555.6 447.9,558.6 447.7,561.3 M447.7,561.3 450.5,565.6 454.3,567.8 459.2,570.5 M346.2,549.8 350.1,549.5 353.8,551.8 357.6,554.8 362.1,557.8 365.1,562.3 368.9,565.3 372.6,568.3 375.6,570.5 375.6,575.0 377.1,578.3 381.6,580.3 384.6,576.5 389.1,576.5 389.1,574.3 384.6,572.8 382.4,569.8 383.9,566.0 389.1,564.8 394.4,564.5 396.6,566.8 400.4,566.0 404.1,567.5 405.6,572.0 407.9,574.7 411.7,574.3 412.9,570.5 412.4,563.8 411.7,557.8 414.7,555.5 417.7,553.3 420.4,554.0 421.4,559.3 424.4,562.3 426.7,565.3 431.2,564.2 435.7,563.0 440.9,562.3 445.4,560.8 447.7,561.3 M338.7,477.5 339.8,482.8 343.5,486.5 347.3,490.3 351.8,493.3 354.8,495.6 352.6,498.6 349.5,500.1 351.8,503.1 351.1,506.8 354.1,509.1 349.5,510.6 344.3,512.1 342.8,515.8 340.5,517.3 344.3,519.6 342.0,524.1 339.8,527.8 339.0,532.3 337.5,536.8 336.0,540.6 338.3,543.6 342.8,540.6 345.8,542.1 345.8,547.4 346.2,549.8 M338.7,477.5 336.8,474.5 333.8,475.3 329.3,476.8 326.3,479.8 328.5,482.8 329.3,485.0 324.0,483.5 319.5,480.5 318.8,477.5 322.5,475.3 321.0,470.0 322.6,471.6 321.4,468.6 319.9,465.9 321.8,464.1 323.3,461.8 325.6,459.9 323.3,456.9 321.8,454.7 318.8,455.6 316.2,455.0 315.0,453.4 312.0,453.5 309.4,454.1 M180.6,400.8 185.1,399.5 189.6,398.8 194.1,398.8 198.6,395.8 203.8,392.0 208.3,389.3 209.1,383.8 210.9,380.5 214.4,381.2 216.6,385.3 220.4,388.3 225.6,389.0 229.4,391.3 230.9,395.0 228.6,397.3 229.4,401.8 227.1,404.8 229.4,407.1 233.1,407.8 233.9,411.6 230.9,413.1 226.4,415.3 229.4,419.8 233.1,418.3 235.4,416.1 240.6,416.8 243.6,415.3 246.6,412.3 250.4,410.8 254.1,412.3 256.4,409.3 260.2,407.1 257.9,401.8 258.6,395.0 256.4,389.8 253.4,387.5 249.6,386.0 248.9,382.3 254.1,382.3 257.9,379.3 258.6,377.0 263.2,377.8 267.7,374.8 271.4,377.8 272.2,382.3 272.9,387.5 277.4,386.8 282.7,386.8 286.4,383.8 288.7,380.0 290.9,377.8 295.4,379.3 293.9,384.5 292.4,389.8 287.9,392.8 285.7,398.0 289.4,401.1 291.7,402.6 287.2,406.3 290.2,409.3 294.8,410.8 296.3,413.8 298.2,416.8 297.4,419.8 298.5,422.0 297.8,424.6 299.7,425.8 302.3,425.0 303.0,428.0 305.3,429.9 306.8,431.4 306.0,435.9 308.7,435.2 312.4,436.7 312.8,440.8 310.5,443.4 308.3,446.8 309.8,449.8 309.4,454.1 M309.4,454.1 306.0,456.5 307.5,459.2 305.3,462.6 303.0,465.6 299.7,468.2 298.2,470.4 295.5,472.3 293.3,471.9 292.5,469.3 293.3,467.4 290.6,467.1 288.4,465.6 285.0,466.7 282.0,468.2 281.6,470.1 284.2,472.8 281.2,475.8 275.2,477.3 269.2,479.5 265.4,482.5 263.2,487.0 266.2,490.0 269.9,487.8 272.9,489.3 274.4,493.8 272.9,496.0 271.4,500.5 267.7,501.3 263.2,502.0 260.2,505.0 260.9,510.3 257.9,515.6 254.1,520.1 251.1,523.1 246.6,522.3 242.9,526.1 239.4,529.8 240.6,533.6 239.1,537.8 M143.8,564.4 146.8,568.1 150.5,565.9 155.0,564.4 158.8,567.4 162.6,567.4 166.8,566.3 165.6,562.1 163.8,557.6 167.8,555.3 170.8,558.3 172.3,551.6 176.1,548.6 180.6,545.6 184.3,546.3 188.1,542.6 193.3,543.3 197.1,541.1 197.8,536.6 201.6,535.8 206.1,534.3 209.8,532.1 213.6,530.6 215.1,526.1 218.1,523.1 218.9,517.8 221.9,516.3 224.1,518.6 225.6,521.6 229.4,523.8 230.9,526.8 231.6,531.3 234.6,534.3 236.1,537.3 239.1,537.8 M239.1,537.8 239.9,541.8 241.4,546.3 239.1,550.1 233.9,550.8 231.6,554.6 233.1,557.6 230.9,562.1 234.6,565.1 238.4,568.9 239.1,573.4 234.6,575.3 236.1,577.5 230.1,579.8 226.4,582.0 226.8,585.8 224.1,589.5 221.1,592.5 223.4,596.3 226.4,599.3 231.6,598.5 236.9,596.3 242.1,594.8 246.6,595.5 250.4,599.3 251.9,603.8 253.4,608.3 255.6,613.5 258.6,618.0 254.9,621.8 252.6,625.6 254.1,630.1 255.3,633.1 M255.3,633.1 257.9,633.8 261.7,636.1 264.7,637.6 266.2,630.8 269.9,630.1 271.0,635.3 273.7,638.3 278.2,639.8 282.7,640.6 284.2,643.6 281.2,647.3 277.4,648.8 278.2,645.1 280.4,642.1 284.9,640.6 290.2,638.3 293.0,635.3 M346.2,549.8 343.3,554.8 340.3,559.3 335.8,562.3 332.1,563.0 329.8,560.8 328.3,569.0 324.6,573.5 320.8,578.0 317.8,578.8 314.8,577.7 315.6,589.3 311.1,590.4 308.8,587.1 303.5,585.3 298.3,585.6 296.0,587.8 293.8,587.1 288.5,587.8 286.3,592.3 288.5,596.1 288.8,603.6 290.8,609.6 293.0,614.8 295.3,617.1 293.8,623.1 292.3,627.6 290.8,632.1 293.0,635.3 M293.0,635.3 296.8,634.4 301.3,632.9 304.3,629.1 309.5,626.8 311.1,622.3 308.0,620.1 304.3,618.6 308.0,617.1 313.3,616.3 317.8,617.1 322.3,615.6 323.1,620.1 325.3,623.8 328.3,621.6 331.3,620.8 333.6,623.8 334.3,629.8 335.1,633.6 332.8,635.9 336.6,635.1 338.1,639.6 340.3,641.9 344.1,640.4 346.3,637.4 348.6,639.6 350.1,644.9 350.8,650.1 349.3,654.6 350.2,657.9 349.4,662.5 352.4,667.0 356.2,670.8 354.7,674.5 357.7,678.3 362.2,680.5 365.2,684.3 368.2,689.5 367.4,697.1 365.9,703.1 369.7,707.6 368.2,709.8 364.4,710.6 362.9,708.3 357.7,706.8 356.9,710.6 359.9,713.6 359.2,721.1 354.7,722.6 351.7,726.3 346.4,727.1 342.6,730.1 340.8,734.6 343.4,739.8 346.9,746.5 349.2,752.5 350.7,758.5 349.2,766.0 347.7,770.5 348.9,775.0 348.4,779.6 346.9,783.3 349.2,786.3 350.7,790.8 347.7,793.1 343.9,790.8 340.2,793.1 334.9,791.6 331.9,794.6 328.9,797.6 324.4,796.8 320.9,798.8 M245.6,684.2 248.1,680.4 250.4,675.1 251.9,669.1 254.1,663.8 257.9,658.6 260.2,654.1 259.4,648.1 258.6,643.6 256.4,638.3 255.3,633.1 M143.3,637.3 149.0,636.1 155.0,637.6 161.1,635.3 166.3,633.1 170.1,630.8 174.6,628.6 179.1,628.6 182.8,630.8 187.3,633.1 191.1,634.6 192.3,640.6 193.3,645.1 194.1,649.6 199.8,652.3 200.1,656.3 198.6,660.1 196.3,663.8 196.8,667.3 M515.7,370.8 514.5,373.8 516.0,376.8 514.2,379.8 514.5,382.8 512.3,385.4 514.9,386.9 519.0,385.0 522.8,385.4 526.5,385.8 529.9,389.2 531.8,385.8 535.6,386.5 540.1,388.0 543.1,389.5 543.8,392.2 546.1,389.5 547.6,386.2 549.4,383.2 546.1,381.7 542.3,380.2 541.6,377.5 543.8,375.3 540.8,373.4 539.3,370.8 537.1,369.3 533.3,367.4 529.5,365.9 526.9,364.9 524.3,365.5 522.0,367.6 518.3,369.4Z M263.0,314.7 265.3,315.8 267.5,316.9 270.5,316.5 272.4,316.2 274.3,317.7 276.9,318.8 279.2,319.9 282.6,320.2 285.2,318.6 286.7,321.1 285.9,324.1 286.7,327.1 285.9,329.7 283.7,331.9 281.8,331.2 278.8,330.1 275.8,328.9 272.8,328.6 271.3,326.3 270.2,323.7 268.7,321.1 267.2,318.8 264.9,316.9Z M261.2,277.2 263.0,278.1 265.2,277.5 268.2,276.3 268.8,277.5 267.3,279.0 266.5,281.4 267.3,283.5 268.8,284.7 267.9,286.5 265.5,287.4 262.4,288.3 259.7,289.5 259.1,288.6 261.2,286.5 263.0,285.0 263.8,283.2 263.5,280.8 262.7,279.0Z"/>
<path d="M255.9,139.9 257.1,140.5 254.8,144.3 252.9,148.8 252.3,152.5 254.1,155.5 256.8,158.2 259.3,157.8 266.1,156.4 266.1,157.0 259.3,158.8 255.9,159.4 252.6,157.0 250.8,154.0 250.3,160.0 249.2,164.5 248.8,169.3 248.0,169.3 248.3,162.3 249.2,155.5 250.5,149.5 252.6,144.3Z M255.6,170.8 257.8,169.3 261.6,169.0 264.6,170.2 265.3,172.8 263.8,175.0 260.1,175.8 257.1,174.7 255.3,172.8Z M249.5,175.8 251.8,179.5 253.3,182.3 252.3,182.6 250.3,179.8 248.8,176.5Z M262.3,180.0 267.6,178.6 267.7,179.2 262.5,180.8Z M265.3,190.1 268.3,188.6 270.6,187.8 271.3,190.1 269.8,192.3 266.8,193.8 264.9,191.9Z M262.3,186.3 263.8,185.9 264.1,187.4 262.6,187.7Z M398.8,193.3 401.8,190.3 407.8,191.8 411.6,196.3 414.3,201.5 410.1,200.0 407.1,199.3 404.8,200.8 402.3,198.5 398.8,197.8Z" fill="#32627a"/>
<path d="M159.3,278.3 162.3,276.8 166.1,276.0 165.8,277.5 163.1,278.7 160.1,279.8Z M170.6,272.3 172.1,271.8 172.4,273.3 171.2,273.9Z M185.6,267.6 196.1,265.8 196.2,266.6 185.7,268.4Z M198.3,265.2 203.6,264.0 203.8,264.8 198.5,266.0Z M205.1,263.7 211.9,262.5 212.0,263.3 205.3,264.5Z M214.9,261.9 220.1,261.0 220.3,261.8 215.0,262.7Z M224.3,259.8 229.9,259.4 230.0,260.1 224.5,260.6Z M259.5,246.8 260.7,246.8 260.7,247.8 259.5,247.8Z" fill="#3a7c8a"/>
<path d="M516.4,189.4 519.5,188.9 522.3,188.9 523.2,191.2 525.0,191.2 524.8,188.0 526.3,186.2 527.7,188.0 528.6,190.3 529.9,191.2 529.9,193.4 532.6,195.2 534.4,196.6 533.5,198.8 534.4,200.6 537.1,201.1 538.0,198.8 538.5,196.1 539.4,199.7 541.2,202.0 544.3,203.3 546.1,205.6 547.5,207.4 547.0,210.5 546.6,214.1 546.1,211.4 545.2,211.0 543.9,212.3 545.7,208.7 545.2,207.1 541.2,206.9 536.7,207.4 533.5,208.7 531.3,210.5 528.6,212.8 526.3,214.6 523.2,215.5 520.9,215.0 518.6,213.2 516.4,212.8 515.0,210.5 514.6,207.8 515.9,206.0 518.2,205.6 520.5,205.6 522.3,204.2 520.5,201.5 518.6,200.2 516.8,200.2 515.9,198.8 518.6,197.5 522.3,195.7 522.7,194.3 520.0,192.5 517.7,191.6Z M515.0,197.0 517.3,194.3 518.6,195.2 516.4,197.5Z M536.2,186.7 538.5,186.0 542.1,185.5 544.3,187.1 544.1,190.3 542.1,192.1 539.4,193.9 537.1,194.8 536.2,192.5 536.0,189.4Z M527.8,181.0 528.6,180.8 529.9,184.0 532.3,186.2 534.9,186.8 536.2,186.5 536.2,187.1 534.7,187.5 532.0,187.0 529.3,184.6Z M520.5,179.5 522.7,177.2 525.9,176.5 530.8,175.9 530.4,177.7 528.6,179.0 527.7,181.3 525.4,183.5 523.2,185.8 521.8,186.2 523.2,183.5 524.1,180.8 523.6,179.0 521.8,179.9Z M520.2,179.7 520.7,179.9 519.4,182.8 517.6,186.4 517.0,186.2 518.8,182.6Z M514.0,183.3 514.5,183.5 513.6,187.3 512.7,190.9 511.7,192.7 511.3,192.5 512.2,190.5 513.1,187.1Z M525.9,216.1 528.6,215.8 530.5,216.8 529.0,218.2 526.3,217.6Z M549.3,225.1 551.1,224.1 552.4,226.3 554.2,229.9 556.5,231.7 560.1,233.5 563.7,235.3 566.8,239.4 570.0,242.5 572.7,245.2 574.5,246.6 574.5,251.5 569.1,252.4 565.5,253.3 562.8,253.3 561.0,251.1 561.9,248.4 560.5,246.6 558.7,246.1 557.8,243.0 559.2,241.6 561.0,243.2 563.2,243.7 564.6,245.5 565.0,243.0 565.0,239.8 562.8,236.7 560.1,234.4 557.8,234.4 558.7,235.8 557.8,238.5 556.0,239.4 556.9,236.7 555.1,235.3 552.9,237.1 552.2,236.2 553.8,234.4 554.2,231.7 552.2,228.1 550.6,226.3Z" fill="#50969b"/>
<g text-anchor="middle" stroke-width="2.4" stroke-linejoin="round" paint-order="stroke">
<text x="337.5" y="235.0" stroke="#32627a" textLength="51" lengthAdjust="spacingAndGlyphs">72,4%</text>
<text x="341.5" y="281.0" stroke="#2e5973" textLength="51" lengthAdjust="spacingAndGlyphs">73,5%</text>
<text x="477.0" y="273.0" stroke="#50969b" textLength="51" lengthAdjust="spacingAndGlyphs">66,3%</text>
<text x="271.0" y="314.0" stroke="#1b1b4d" textLength="51" lengthAdjust="spacingAndGlyphs">79,6%</text>
<text x="304.0" y="361.0" stroke="#3a7c8a" textLength="51" lengthAdjust="spacingAndGlyphs">69,8%</text>
<text x="529.0" y="370.0" stroke="#3f8890" textLength="51" lengthAdjust="spacingAndGlyphs">68,6%</text>
<text x="545.0" y="415.0" stroke="#7eb0a8" textLength="51" lengthAdjust="spacingAndGlyphs">61,6%</text>
<text x="437.5" y="444.0" stroke="#63a1a0" textLength="51" lengthAdjust="spacingAndGlyphs">64,3%</text>
<text x="211.0" y="463.0" stroke="#356a7f" textLength="51" lengthAdjust="spacingAndGlyphs">71,4%</text>
<text x="535.0" y="502.0" stroke="#a2c9b7" textLength="51" lengthAdjust="spacingAndGlyphs">57,7%</text>
<text x="403.5" y="531.0" stroke="#79aea6" textLength="51" lengthAdjust="spacingAndGlyphs">62,0%</text>
<text x="287.5" y="555.0" stroke="#4a9298" textLength="51" lengthAdjust="spacingAndGlyphs">67,1%</text>
<text x="199.5" y="620.0" stroke="#468f95" textLength="51" lengthAdjust="spacingAndGlyphs">67,7%</text>
<text x="175.0" y="661.0" stroke="#2c4f70" textLength="51" lengthAdjust="spacingAndGlyphs">74,4%</text>
<text x="450.0" y="706.0" stroke="#52979c" textLength="51" lengthAdjust="spacingAndGlyphs">66,1%</text>
<text x="280.5" y="745.0" stroke="#52979c" textLength="51" lengthAdjust="spacingAndGlyphs">66,1%</text>
</g></svg>
<div class="list">
<div class="row" style="top:152.40px"><span class="name" id="n0" style="transform:scaleX(0.9703)">Bremen</span><span class="bar" style="width:202.8px;background:#1b1b4d"></span><span class="val" id="v0" style="left:472.6px;transform:scaleX(0.9364)">79,6%</span></div>
<div class="row" style="top:195.07px"><span class="name" id="n1" style="transform:scaleX(0.9300)">Saarland</span><span class="bar" style="width:189.6px;background:#2c4f70"></span><span class="val" id="v1" style="left:459.4px;transform:scaleX(0.9364)">74,4%</span></div>
<div class="row" style="top:237.73px"><span class="name" id="n2" style="transform:scaleX(1.0000)">Hamburg</span><span class="bar" style="width:187.3px;background:#2e5973"></span><span class="val" id="v2" style="left:457.1px;transform:scaleX(0.9364)">73,5%</span></div>
<div class="row" style="top:280.40px"><span class="name" id="n3" style="transform:scaleX(1.0000)">Schleswig-Holstein</span><span class="bar" style="width:184.5px;background:#32627a"></span><span class="val" id="v3" style="left:454.3px;transform:scaleX(0.9364)">72,4%</span></div>
<div class="row" style="top:323.07px"><span class="name" id="n4" style="transform:scaleX(1.0189)">Nordrhein-Westfalen</span><span class="bar" style="width:181.9px;background:#356a7f"></span><span class="val" id="v4" style="left:451.7px;transform:scaleX(0.9364)">71,4%</span></div>
<div class="row" style="top:365.74px"><span class="name" id="n5" style="transform:scaleX(0.9565)">Niedersachsen</span><span class="bar" style="width:177.9px;background:#3a7c8a"></span><span class="val" id="v5" style="left:447.7px;transform:scaleX(0.9364)">69,8%</span></div>
<div class="row" style="top:408.40px"><span class="name" id="n6" style="transform:scaleX(0.9955)">Berlin</span><span class="bar" style="width:174.8px;background:#3f8890"></span><span class="val" id="v6" style="left:444.6px;transform:scaleX(0.9364)">68,6%</span></div>
<div class="row" style="top:451.07px"><span class="name" id="n7" style="transform:scaleX(0.9973)">Rheinland-Pfalz</span><span class="bar" style="width:172.5px;background:#468f95"></span><span class="val" id="v7" style="left:442.3px;transform:scaleX(0.9364)">67,7%</span></div>
<div class="row" style="top:493.74px"><span class="name" id="n8" style="transform:scaleX(0.9245)">Hessen</span><span class="bar" style="width:171.0px;background:#4a9298"></span><span class="val" id="v8" style="left:440.8px;transform:scaleX(0.9364)">67,1%</span></div>
<div class="row" style="top:536.40px"><span class="name" id="n9" style="transform:scaleX(1.0190)">Mecklenburg-Vorpommern</span><span class="bar" style="width:168.9px;background:#50969b"></span><span class="val" id="v9" style="left:438.7px;transform:scaleX(0.9364)">66,3%</span></div>
<div class="row" style="top:579.07px"><span class="name" id="n10" style="transform:scaleX(1.0140)">Baden-Württemberg</span><span class="bar" style="width:168.4px;background:#52979c"></span><span class="val" id="v10" style="left:438.2px;transform:scaleX(0.9364)">66,1%</span></div>
<div class="row" style="top:621.74px"><span class="name" id="n11" style="transform:scaleX(0.9385)">Bayern</span><span class="bar" style="width:168.4px;background:#52979c"></span><span class="val" id="v11" style="left:438.2px;transform:scaleX(0.9364)">66,1%</span></div>
<div class="row" style="top:664.40px"><span class="name" id="n12" style="transform:scaleX(0.9703)">Sachsen-Anhalt</span><span class="bar" style="width:163.8px;background:#63a1a0"></span><span class="val" id="v12" style="left:433.6px;transform:scaleX(0.9364)">64,3%</span></div>
<div class="row" style="top:707.07px"><span class="name" id="n13" style="transform:scaleX(0.9878)">Thüringen</span><span class="bar" style="width:158.0px;background:#79aea6"></span><span class="val" id="v13" style="left:427.8px;transform:scaleX(0.9364)">62,0%</span></div>
<div class="row" style="top:749.74px"><span class="name" id="n14" style="transform:scaleX(0.9822)">Brandenburg</span><span class="bar" style="width:157.0px;background:#7eb0a8"></span><span class="val" id="v14" style="left:426.8px;transform:scaleX(0.9364)">61,6%</span></div>
<div class="row" style="top:792.40px"><span class="name" id="n15" style="transform:scaleX(0.9009)">Sachsen</span><span class="bar" style="width:147.0px;background:#a2c9b7"></span><span class="val" id="v15" style="left:416.8px;transform:scaleX(0.9364)">57,7%</span></div>
</div>
</body></html>
